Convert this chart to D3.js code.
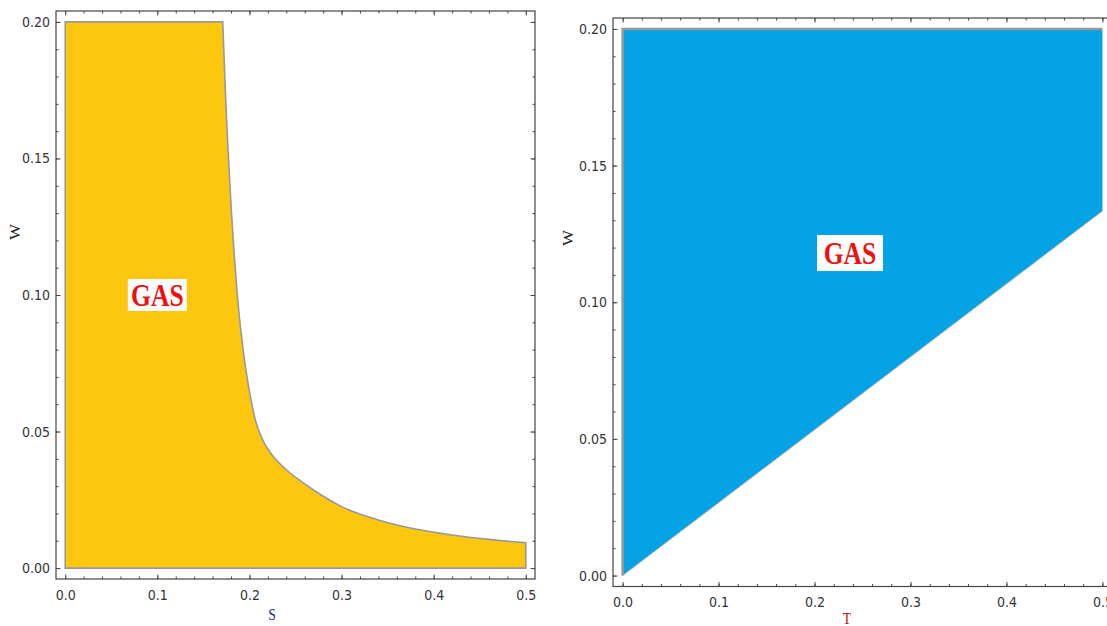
<!DOCTYPE html>
<html>
<head>
<meta charset="utf-8">
<script src="https://cdn.jsdelivr.net/npm/d3@7"></script>
<style>
  body { margin: 0; background: #fff; }
  svg { display: block; }
  .tick text { font-family: "Liberation Sans Narrow", "DejaVu Sans Condensed", sans-serif; font-size: 14px; fill: #333; }
</style>
</head>
<body>
<script>
// ---- data ----
// left panel: GAS region, flat top at W = 0.2 up to S = 0.171, then the curve W(S)
var wTopL = 0.2
var sCurve = [0.171, 0.1743, 0.1797, 0.1874, 0.1939, 0.2004, 0.207, 0.2135, 0.225, 0.24, 0.255, 0.27, 0.30, 0.34, 0.38, 0.42, 0.46, 0.50]
var wCurve = [0.2, 0.171, 0.135, 0.098, 0.078, 0.064, 0.0535, 0.0475, 0.0412, 0.0360, 0.0320, 0.0285, 0.0225, 0.0176, 0.0143, 0.0121, 0.0105, 0.0093]

// right panel: GAS region above the line W(T)
var tLine = [0, 0.5]
var wLine = [0, 0.1334]
var wTop = 0.2

var xTicks = [0, 0.1, 0.2, 0.3, 0.4, 0.5]
var xTickLabels = ["0.0", "0.1", "0.2", "0.3", "0.4", "0.5"]
var yTicks = [0, 0.05, 0.1, 0.15, 0.2]
var yTickLabels = ["0.00", "0.05", "0.10", "0.15", "0.20"]
var xMinor = d3.range(0, 0.5001, 0.02)
var yMinor = d3.range(0, 0.2001, 0.01)

var svg = d3.select('body').append('svg').attr('width', 1107).attr('height', 626)

function drawFrame(g, x, y, yLabelPad) {
    var x0 = x.range()[0], x1 = x.range()[1], y0 = y.range()[0], y1 = y.range()[1]

    // minor ticks, all four sides
    g.append('g').attr('transform', 'translate(0,' + y0 + ')')
        .call(d3.axisBottom(x).tickValues(xMinor).tickSize(-2.5).tickFormat(''))
    g.append('g').attr('transform', 'translate(0,' + y1 + ')')
        .call(d3.axisTop(x).tickValues(xMinor).tickSize(-2.5).tickFormat(''))
    g.append('g').attr('transform', 'translate(' + x0 + ',0)')
        .call(d3.axisLeft(y).tickValues(yMinor).tickSize(-2.5).tickFormat(''))
    g.append('g').attr('transform', 'translate(' + x1 + ',0)')
        .call(d3.axisRight(y).tickValues(yMinor).tickSize(-2.5).tickFormat(''))

    // major ticks
    g.append('g').attr('transform', 'translate(0,' + y0 + ')')
        .call(d3.axisBottom(x).tickValues(xTicks).tickSize(-4.5).tickPadding(11)
            .tickFormat((d, i) => xTickLabels[i]))
    g.append('g').attr('transform', 'translate(0,' + y1 + ')')
        .call(d3.axisTop(x).tickValues(xTicks).tickSize(-4.5).tickFormat(''))
    g.append('g').attr('transform', 'translate(' + x0 + ',0)')
        .call(d3.axisLeft(y).tickValues(yTicks).tickSize(-4.5).tickPadding(yLabelPad)
            .tickFormat((d, i) => yTickLabels[i]))
    g.append('g').attr('transform', 'translate(' + x1 + ',0)')
        .call(d3.axisRight(y).tickValues(yTicks).tickSize(-4.5).tickFormat(''))

    g.selectAll('.domain').remove()
    g.selectAll('.tick line').attr('stroke', '#444')

    g.append('rect').attr('x', x0).attr('y', y1)
        .attr('width', x1 - x0).attr('height', y0 - y1)
        .attr('fill', 'none').attr('stroke', '#444').attr('stroke-width', 1.2)
}

function gasLabel(g, cx, cy, w, h) {
    g.append('rect').attr('x', cx - w / 2).attr('y', cy - h / 2)
        .attr('width', w).attr('height', h).attr('fill', '#fff')
    g.append('text').attr('transform', 'translate(' + cx + ',' + (cy + 11) + ') scale(0.8,1)')
        .attr('text-anchor', 'middle')
        .style('font-family', '"Liberation Serif", "DejaVu Serif", serif')
        .style('font-weight', 'bold').style('font-size', '32px')
        .attr('fill', '#ee1111').text('GAS')
}

function axisTitle(g, x, y, txt, color, rot) {
    g.append('text')
        .attr('transform', 'translate(' + x + ',' + y + ') scale(0.8,1)' + (rot ? ' rotate(-90)' : ''))
        .attr('text-anchor', 'middle')
        .style('font-family', '"Liberation Serif", "DejaVu Serif", serif')
        .style('font-size', '17px')
        .attr('fill', color).text(txt)
}

// ---------------- left panel ----------------
var xL = d3.scaleLinear().domain([-0.01, 0.51]).range([56, 535])
var yL = d3.scaleLinear().domain([-0.004, 0.204]).range([579, 11])
var left = svg.append('g')

var curveS = d3.line().curve(d3.curveMonotoneX)
    .x((d, i) => xL(sCurve[i])).y((d, i) => yL(wCurve[i]))
var curvePath = curveS(sCurve)
var gasPath = 'M' + xL(0) + ',' + yL(0) + 'L' + xL(0) + ',' + yL(wTopL) +
    'L' + curvePath.slice(1) + 'L' + xL(sCurve[sCurve.length - 1]) + ',' + yL(0) + 'Z'
left.append('path').attr('d', gasPath)
    .attr('fill', '#fdc60f').attr('stroke', '#999').attr('stroke-width', 1.6)

drawFrame(left, xL, yL, 6)
gasLabel(left, xL(0.1), yL(0.1), 59, 32)
axisTitle(left, 272, 620, 'S', '#1c2a8a', false)
axisTitle(left, 20, 232, 'W', '#222', true)

// ---------------- right panel ----------------
var xR = d3.scaleLinear().domain([-0.01, 0.51]).range([613, 1112])
var yR = d3.scaleLinear().domain([-0.004, 0.204]).range([586.5, 18])
var right = svg.append('g')

var gasT = d3.area()
    .x((d, i) => xR(tLine[i])).y0((d, i) => yR(wLine[i])).y1(yR(wTop))
right.append('path').datum(tLine).attr('d', gasT).attr('fill', '#03a3e6')

right.append('path').datum(tLine)
    .attr('d', d3.line().x((d, i) => xR(tLine[i])).y((d, i) => yR(wLine[i])))
    .attr('fill', 'none').attr('stroke', '#aaa').attr('stroke-width', 1)
right.append('path')
    .attr('d', d3.line()([[xR(0), yR(0)], [xR(0), yR(wTop)], [xR(0.5), yR(wTop)]]))
    .attr('fill', 'none').attr('stroke', '#999').attr('stroke-width', 2.5)

drawFrame(right, xR, yR, 6)
gasLabel(right, xR(0.237), yR(0.118), 66, 36)
axisTitle(right, 847, 624, 'T', '#b01818', false)
axisTitle(right, 573, 238, 'W', '#222', true)
</script>
</body>
</html>
